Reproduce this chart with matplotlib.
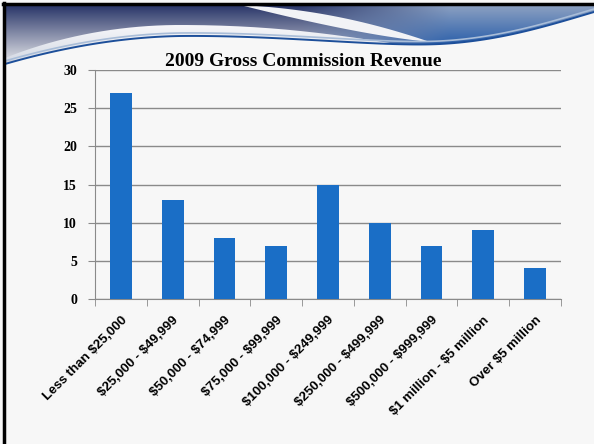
import numpy as np
import matplotlib.pyplot as plt
from matplotlib.path import Path
from matplotlib.patches import PathPatch

plt.rcParams["text.parse_math"] = False

# ── Data ───────────────────────────────────────────────────────────────────────
categories = ["Less than $25,000", "$25,000 - $49,999", "$50,000 - $74,999",
              "$75,000 - $99,999", "$100,000 - $249,999", "$250,000 - $499,999",
              "$500,000 - $999,999", "$1 million - $5 million", "Over $5 million"]
values = [27, 13, 8, 7, 15, 10, 7, 9, 4]
yticks = [0, 5, 10, 15, 20, 25, 30]

W, H = 594, 444
fig = plt.figure(figsize=(W / 100, H / 100), dpi=100)
fig.patch.set_facecolor("#f7f7f7")

# ── Slide background (header swoosh) ──────────────────────────────────────────
bg = fig.add_axes([0, 0, 1, 1], zorder=-1)
bg.set_xlim(0, W)
bg.set_ylim(H, 0)
bg.axis("off")


def bez(p0, p1, p2, p3, n=40):
    t = np.linspace(0, 1, n)[:, None]
    p0, p1, p2, p3 = map(np.array, (p0, p1, p2, p3))
    return (1 - t) ** 3 * p0 + 3 * (1 - t) ** 2 * t * p1 + 3 * (1 - t) * t ** 2 * p2 + t ** 3 * p3


def grad_fill(poly, top, bottom, y0, y1, z):
    patch = PathPatch(Path(poly), facecolor="none", edgecolor="none")
    bg.add_patch(patch)
    t = np.linspace(0, 1, 80)[:, None, None]
    img = (1 - t) * np.array(top) + t * np.array(bottom)
    img = np.repeat(img, 2, axis=1)
    im = bg.imshow(img, extent=(0, W, y1, y0), aspect="auto", zorder=z)
    im.set_clip_path(patch)


# lower blue line of the header
low = np.vstack([bez((5, 64), (60, 48), (120, 37), (180, 36)),
                 bez((180, 36), (280, 35), (380, 47), (440, 44)),
                 bez((440, 44), (500, 41), (550, 25), (594, 12))])

# gradient fill of the header
yy, xx = np.mgrid[0:72, 0:W]
tv = np.clip((yy - 5) / 50.0, 0, 1)[..., None]
wx = np.clip((xx - 300) / 150.0, 0, 1)[..., None]
left_col = (1 - tv) * np.array([0.16, 0.21, 0.41]) + tv * np.array([0.80, 0.81, 0.85])
right_col = (1 - tv) * np.array([0.55, 0.63, 0.76]) + tv * np.array([0.06, 0.30, 0.64])
img = (1 - wx) * left_col + wx * right_col
hdr = np.vstack([[5, 5], [W, 5], low[::-1]])
hdr_patch = PathPatch(Path(hdr), facecolor="none", edgecolor="none")
bg.add_patch(hdr_patch)
im = bg.imshow(img, extent=(0, W, 72, 0), aspect="auto", zorder=1)
im.set_clip_path(hdr_patch)

# white arc on the left
arc_top = np.vstack([bez((5, 58), (60, 36), (120, 25), (180, 25)),
                     bez((180, 25), (260, 25), (320, 32), (390, 43))])
arc = np.vstack([arc_top, low[(low[:, 0] <= 390)][::-1]])
grad_fill(arc, (0.97, 0.97, 0.98), (0.84, 0.86, 0.90), 24, 60, 2)

# white swoosh on the right
sw_top = bez((240, 5), (300, 8), (360, 18), (430, 42))
sw_bot = bez((430, 42), (370, 36), (300, 20), (240, 5))
sw = np.vstack([sw_top, sw_bot])
bg.fill(sw[:, 0], sw[:, 1], color="#f2f3f6", zorder=2, lw=0)

bg.plot(low[:, 0], low[:, 1] - 3, color="#a9bdd8", lw=1.2, zorder=3)
bg.plot(low[:, 0], low[:, 1], color="#1d4f9a", lw=1.4, zorder=3)

# slide frame (top and left)
bg.plot([4, 4], [3, H], color="black", lw=2.5, zorder=4)
bg.plot([3, W], [4, 4], color="black", lw=2.5, zorder=4)

# ── Chart ──────────────────────────────────────────────────────────────────────
ax = fig.add_axes([95 / W, 1 - 299 / H, 466 / W, 229 / H])
ax.set_facecolor("none")
x = np.arange(len(categories))
ax.bar(x, values, width=0.42, color="#1a6ec6", zorder=3)

ax.set_xlim(-0.5, len(categories) - 0.5)
ax.set_ylim(0, 30)
ax.set_yticks(yticks)
ax.set_yticklabels([str(v) for v in yticks], fontfamily="Liberation Serif",
                   fontweight="bold", fontsize=10)
ax.grid(axis="y", color="#8a8a8a", lw=1, zorder=0)
ax.set_xticks(x)
ax.set_xticklabels(categories, rotation=45, ha="right", rotation_mode="anchor",
                   fontfamily="Liberation Sans", fontweight="bold", fontsize=9.5)
ax.set_xticks(np.arange(len(categories) + 1) - 0.5, minor=True)
ax.tick_params(axis="x", which="major", length=0, pad=11)
ax.tick_params(axis="x", which="minor", length=5, color="#8a8a8a")
ax.tick_params(axis="y", length=5, color="#8a8a8a", pad=8)
for s in ["top", "right"]:
    ax.spines[s].set_visible(False)
for s in ["left", "bottom"]:
    ax.spines[s].set_color("#8a8a8a")

fig.text(303 / W, 1 - 61 / H, "2009 Gross Commission Revenue", ha="center",
         va="center", fontfamily="Liberation Serif", fontweight="bold", fontsize=14)

fig.savefig("out.png", dpi=100, facecolor=fig.get_facecolor())
